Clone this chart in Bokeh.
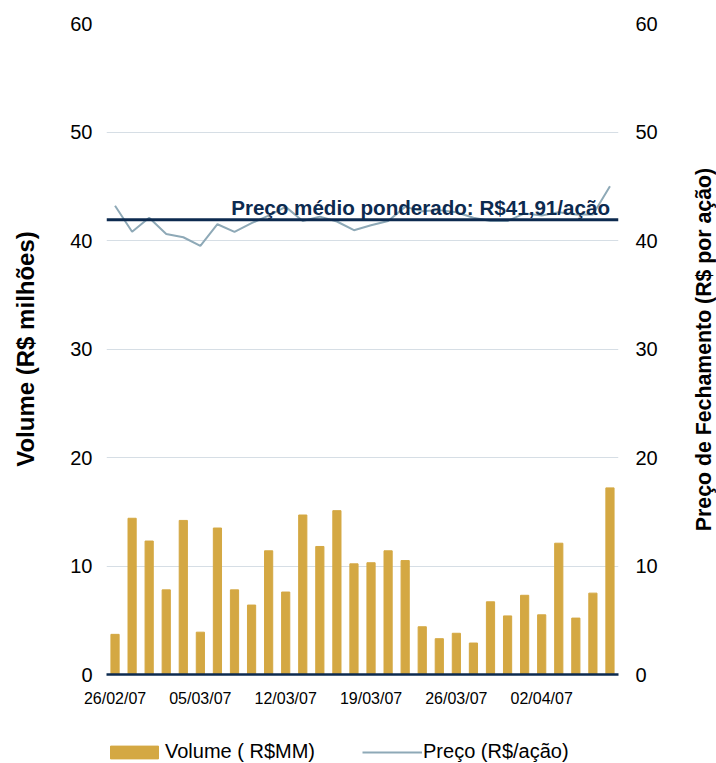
import math
from bokeh.plotting import figure
from bokeh.layouts import column, row
from bokeh.models import Range1d, LinearAxis, FixedTicker, Span, Label, Legend, LegendItem
from bokeh.embed import file_html
from bokeh.resources import INLINE

dates = ["26/02/07", "27/02/07", "28/02/07", "01/03/07", "02/03/07",
         "05/03/07", "06/03/07", "07/03/07", "08/03/07", "09/03/07",
         "12/03/07", "13/03/07", "14/03/07", "15/03/07", "16/03/07",
         "19/03/07", "20/03/07", "21/03/07", "22/03/07", "23/03/07",
         "26/03/07", "27/03/07", "28/03/07", "29/03/07", "30/03/07",
         "02/04/07", "03/04/07", "04/04/07", "05/04/07", "06/04/07"]
volume = [3.7, 14.4, 12.3, 7.8, 14.2, 3.9, 13.5, 7.8, 6.4, 11.4,
          7.6, 14.7, 11.8, 15.1, 10.2, 10.3, 11.4, 10.5, 4.4, 3.3,
          3.8, 2.9, 6.7, 5.4, 7.3, 5.5, 12.1, 5.2, 7.5, 17.2]
price = [43.2, 40.8, 42.1, 40.6, 40.3, 39.5, 41.5, 40.8, 41.6, 42.3,
         43.1, 41.8, 42.2, 41.75, 40.95, 41.4, 41.8, 43.1, 42.7, 42.8,
         42.6, 42.1, 41.8, 41.8, 42.5, 42.3, 42.6, 42.4, 42.4, 45.0]
avg_price = 41.91
avg_text = "Preço médio ponderado: R$41,91/ação"
left_title = "Volume (R$ milhões)"
right_title = "Preço de Fechamento (R$ por ação)"
legend_labels = ["Volume ( R$MM)", "Preço (R$/ação)"]
tick_idx = [0, 5, 10, 15, 20, 25]
y_ticks = [0, 10, 20, 30, 40, 50, 60]

GOLD = "#D4A843"
STEEL = "#8EA9B7"
NAVY = "#0C2A4F"
GRID = "#D6DEE5"
FONT = "Liberation Sans"

x = list(range(len(dates)))

MAIN_H = 714
p = figure(frame_width=512, frame_height=651, output_backend="svg", toolbar_location=None,
           x_range=Range1d(-0.5, len(dates) - 0.5), y_range=Range1d(0, 60),
           min_border_left=106, min_border_right=42, min_border_top=23,
           min_border_bottom=MAIN_H - 23 - 651)
p.outline_line_color = None
p.background_fill_color = "white"
p.extra_y_ranges = {"price": Range1d(0, 60)}

p.vbar(x=x, top=volume, width=0.48, color=GOLD)
p.line(x=x, y=price, line_color=STEEL, line_width=2, y_range_name="price")

p.add_layout(Span(location=avg_price, dimension="width", line_color=NAVY, line_width=3))
p.add_layout(Label(x=len(dates) - 1, y=avg_price + 1.16, text=avg_text, text_align="right",
                   text_baseline="alphabetic", text_font=FONT, text_font_size="20.6px",
                   text_font_style="bold", text_color=NAVY))

# grid
p.xgrid.visible = False
p.ygrid.ticker = FixedTicker(ticks=y_ticks)
p.ygrid.grid_line_color = GRID
p.ygrid.grid_line_width = 1

# x axis
xa = p.xaxis[0]
xa.ticker = FixedTicker(ticks=tick_idx)
xa.major_label_overrides = {i: dates[i] for i in tick_idx}
xa.axis_line_color = NAVY
xa.axis_line_width = 2.5
xa.major_tick_line_color = None
xa.major_tick_out = 0
xa.major_tick_in = 0
xa.minor_tick_line_color = None
xa.minor_tick_out = 0
xa.major_label_text_font = FONT
xa.major_label_text_font_size = "16px"
xa.major_label_text_color = "#000000"
xa.major_label_standoff = 15

# left axis
ya = p.yaxis[0]
ya.ticker = FixedTicker(ticks=y_ticks)
ya.axis_line_color = None
ya.major_tick_line_color = None
ya.major_tick_out = 0
ya.major_tick_in = 0
ya.minor_tick_line_color = None
ya.minor_tick_out = 0
ya.major_label_text_font = FONT
ya.major_label_text_font_size = "20px"
ya.major_label_text_color = "#000000"
ya.major_label_standoff = 14
ya.axis_label = left_title
ya.axis_label_text_font = FONT
ya.axis_label_text_font_size = "24px"
ya.axis_label_text_font_style = "bold"
ya.axis_label_text_color = "#000000"
ya.axis_label_standoff = 28

# right axis (ticks only; title drawn in side panel)
ra = LinearAxis(y_range_name="price", ticker=FixedTicker(ticks=y_ticks))
ra.axis_line_color = None
ra.major_tick_line_color = None
ra.major_tick_out = 0
ra.major_tick_in = 0
ra.minor_tick_line_color = None
ra.minor_tick_out = 0
ra.major_label_text_font = FONT
ra.major_label_text_font_size = "20px"
ra.major_label_text_color = "#000000"
ra.major_label_standoff = 17
p.add_layout(ra, "right")

# right title panel
SIDE_W = 56
side = figure(frame_width=SIDE_W, frame_height=MAIN_H, output_backend="svg", toolbar_location=None,
              x_range=Range1d(0, SIDE_W), y_range=Range1d(0, MAIN_H), min_border=0,
              x_axis_location=None, y_axis_location=None)
side.outline_line_color = None
side.xgrid.visible = False
side.ygrid.visible = False
side.add_layout(Label(x=43, y=MAIN_H - 347 + 21, text=right_title, angle=math.pi / 2,
                      text_align="center", text_baseline="middle", text_font=FONT,
                      text_font_size="21.3px", text_font_style="bold", text_color="#000000"))

# legend panel (swatches come from the series, kept outside the visible range)
LEG_H = 49
leg = figure(frame_width=106 + 512 + 42 + SIDE_W, frame_height=LEG_H, output_backend="svg",
             toolbar_location=None, x_range=Range1d(-100, -99), y_range=Range1d(100, 101),
             min_border=0, x_axis_location=None, y_axis_location=None)
leg.outline_line_color = None
leg.xgrid.visible = False
leg.ygrid.visible = False
r_bar = leg.vbar(x=x, top=volume, width=0.48, color=GOLD)
r_line = leg.line(x=x, y=price, line_color=STEEL, line_width=2)
legend = Legend(items=[LegendItem(label=legend_labels[0], renderers=[r_bar]),
                       LegendItem(label=legend_labels[1], renderers=[r_line])],
                orientation="horizontal", location=(104, 0),
                glyph_width=60, glyph_height=16, label_standoff=1, spacing=47,
                padding=0, margin=0, border_line_color=None, background_fill_alpha=0,
                label_text_font=FONT, label_text_font_size="20px", label_text_color="#000000")
leg.add_layout(legend, "center")

layout = column(row(p, side), leg)
open("out.html", "w").write(file_html(layout, INLINE))
